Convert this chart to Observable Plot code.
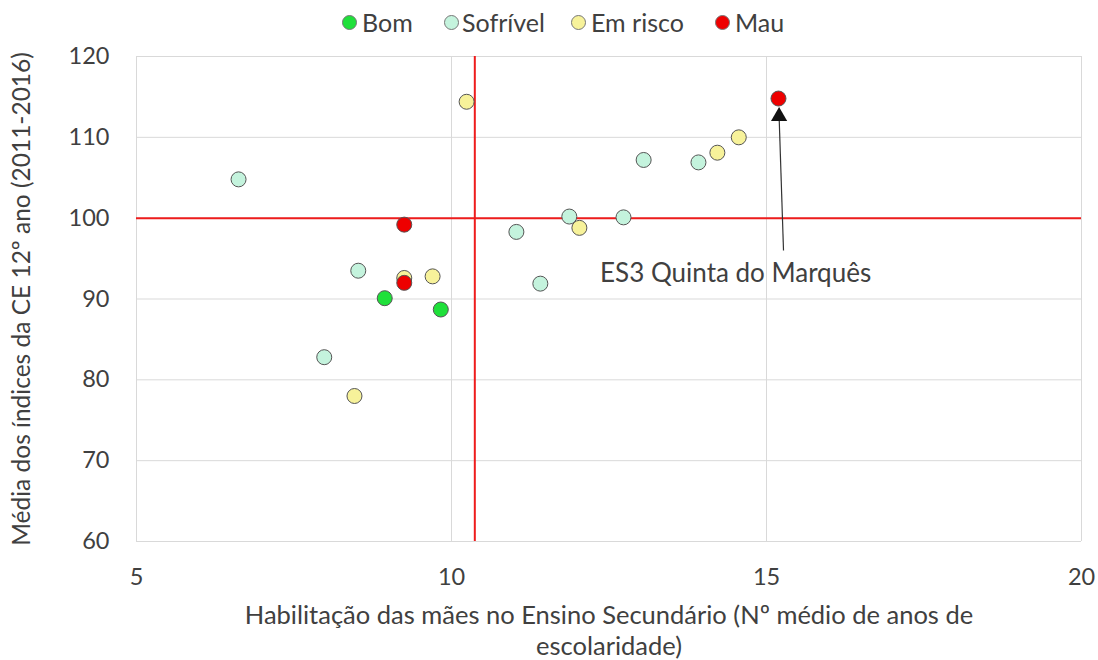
<!DOCTYPE html>
<html>
<head>
<meta charset="utf-8">
<script src="https://cdn.jsdelivr.net/npm/d3@7"></script>
<script src="https://cdn.jsdelivr.net/npm/@observablehq/plot@0.6"></script>
<style>
  html, body { margin: 0; padding: 0; background: #fff; }
  body { width: 1098px; height: 660px; overflow: hidden; font-family: Lato, "Open Sans", sans-serif; color: #404040; }
  #legend { height: 30px; position: relative; font-size: 25px; }
  #legend .sw { position: absolute; top: 15px; width: 15px; height: 15px; border-radius: 50%; border: 1px solid #777; box-sizing: border-box; }
  #legend .lb { position: absolute; top: 7px; line-height: 30px; white-space: nowrap; }
  #chart svg { display: block; }
</style>
</head>
<body>
<div id="legend"></div>
<div id="chart"></div>
<script>
// Categories and colours
const categories = ["Bom", "Sofrível", "Em risco", "Mau"];
const colors = ["#1fe03a", "#c4f3dd", "#f7f29a", "#ee0000"];

// Series: schools (x = mothers' years of schooling, y = mean CE index)
const xValues = [6.62, 10.24, 9.25, 8.52, 9.25, 9.25, 9.70, 8.94, 9.83, 7.98, 8.46,
                 11.03, 11.87, 12.03, 12.73, 11.41, 13.05, 13.92, 14.22, 14.56, 15.19];
const yValues = [104.8, 114.4, 99.2, 93.5, 92.6, 92.0, 92.8, 90.1, 88.7, 82.8, 78.0,
                 98.3, 100.2, 98.8, 100.1, 91.9, 107.2, 106.9, 108.1, 110.0, 114.8];
const classes = ["Sofrível", "Em risco", "Mau", "Sofrível", "Em risco", "Mau", "Em risco", "Bom", "Bom", "Sofrível", "Em risco",
                 "Sofrível", "Sofrível", "Em risco", "Sofrível", "Sofrível", "Sofrível", "Sofrível", "Em risco", "Em risco", "Mau"];

// Reference lines
const refX = [10.37];
const refY = [100];

// Ticks
const xTicks = [5, 10, 15, 20];
const yTicks = [60, 70, 80, 90, 100, 110, 120];

// Annotation
const annotLabel = ["ES3 Quinta do Marquês"];
const annotTextPos = [[14.51, 93.1]];
const annotArrow = [[15.27, 96.0, 15.2, 112.6]];

// Axis titles
const xTitle = "Habilitação das mães no Ensino Secundário (Nº médio de anos de\nescolaridade)";
const yTitle = "Média dos índices da CE 12º ano (2011-2016)";

const data = xValues.map((x, i) => ({x, y: yValues[i], c: classes[i]}));

// Legend (HTML, above the SVG)
const legendDotX = [342, 444, 571, 715];
const legendTextX = [362, 462, 591, 735];
const leg = document.getElementById("legend");
categories.forEach((c, i) => {
  const sw = document.createElement("span");
  sw.className = "sw";
  sw.style.left = legendDotX[i] + "px";
  sw.style.background = colors[i];
  leg.appendChild(sw);
  const lb = document.createElement("span");
  lb.className = "lb";
  lb.style.left = legendTextX[i] + "px";
  lb.textContent = c;
  leg.appendChild(lb);
});

const chart = Plot.plot({
  width: 1098,
  height: 630,
  marginTop: 26,
  marginBottom: 119,
  marginLeft: 136,
  marginRight: 17,
  style: {fontFamily: "Lato, 'Open Sans', sans-serif", fontSize: "23.5px", color: "#404040"},
  x: {domain: [5, 20], ticks: xTicks, tickSize: 0, tickPadding: 27, label: null},
  y: {domain: [60, 120], ticks: yTicks, tickSize: 0, tickPadding: 27,
      label: yTitle, labelAnchor: "center", labelArrow: "none", labelOffset: 124},
  color: {domain: categories, range: colors},
  marks: [
    Plot.gridX(xTicks, {stroke: "#d9d9d9", strokeOpacity: 1, strokeWidth: 1}),
    Plot.gridY(yTicks, {stroke: "#d9d9d9", strokeOpacity: 1, strokeWidth: 1}),
    Plot.ruleX(refX, {stroke: "#ee1c1c", strokeWidth: 2}),
    Plot.ruleY(refY, {stroke: "#ee1c1c", strokeWidth: 2}),
    Plot.dot(data, {x: "x", y: "y", fill: "c", r: 7.5, stroke: "#555", strokeWidth: 1, fillOpacity: 1}),
    Plot.link(annotArrow, {x1: d => d[0], y1: d => d[1], x2: d => d[2], y2: d => d[3], stroke: "#333", strokeWidth: 1.2}),
    Plot.dot(annotArrow, {x: d => d[2], y: d => d[3], symbol: "triangle", r: 6, fill: "#111", stroke: "none"}),
    Plot.text(annotLabel, {x: () => annotTextPos[0][0], y: () => annotTextPos[0][1], text: d => d, fontSize: 26, fill: "#404040"}),
    Plot.text([xTitle],
      {frameAnchor: "bottom", dy: 60, lineAnchor: "top", lineHeight: 1.22, text: d => d, fontSize: 25.5, fill: "#404040"})
  ]
});
chart.querySelectorAll("[aria-label='y-axis label'] text").forEach(t => t.style.fontSize = "24.5px");
document.getElementById("chart").appendChild(chart);
</script>
</body>
</html>
